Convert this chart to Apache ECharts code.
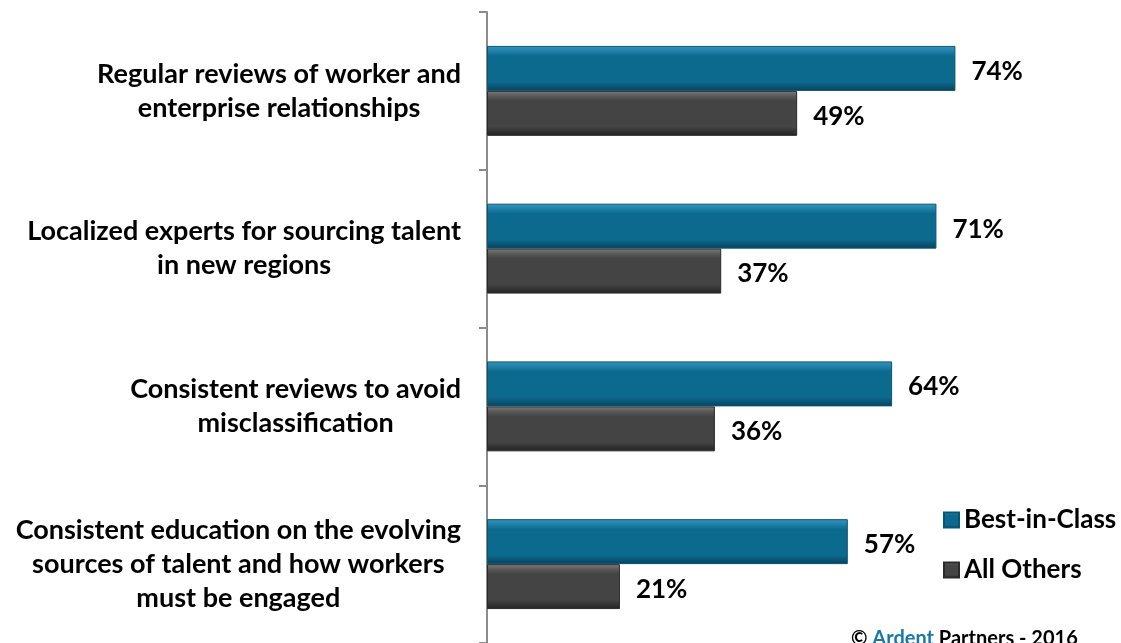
<!DOCTYPE html>
<html><head><meta charset="utf-8">
<script src="https://cdn.jsdelivr.net/npm/echarts@6/dist/echarts.min.js"></script>
<style>html,body{margin:0;padding:0;background:#fff}#c{width:1121px;height:643px}</style>
</head><body><div id="c"></div>
<script>
var categories = [
  'Regular reviews of worker and\nenterprise relationships',
  'Localized experts for sourcing talent\nin new regions',
  'Consistent reviews to avoid\nmisclassification',
  'Consistent education on the evolving\nsources of talent and how workers\nmust be engaged'
];
var seriesNames = ['Best-in-Class', 'All Others'];
var bestInClass = [74, 71, 64, 57];
var allOthers = [49, 37, 36, 21];

var FONT = 'Lato';
function grad(c0, c1, c2, c3) {
  return new echarts.graphic.LinearGradient(0, 0, 0, 1, [
    {offset: 0, color: c0}, {offset: 0.12, color: c1}, {offset: 0.22, color: c2},
    {offset: 0.8, color: c2}, {offset: 1, color: c3}
  ]);
}
var blueFill = grad('#3496bd', '#1f80a8', '#0d6a8f', '#06425b');
var darkFill = grad('#7d7d7d', '#585858', '#444444', '#222222');

var chart = echarts.init(document.getElementById('c'));
var labelStyle = {
  show: true, position: 'right', distance: 16, offset: [0, 3],
  formatter: '{c}%', fontFamily: FONT, fontWeight: 'bold', fontSize: 26, color: '#000'
};
chart.setOption({
  animation: false,
  grid: {left: 487, right: 1, top: 12, height: 632, containLabel: false},
  xAxis: {type: 'value', min: 0, max: 100, show: false},
  yAxis: {
    type: 'category', data: categories, inverse: true,
    axisLine: {show: true, lineStyle: {color: '#8c8c8c', width: 2}},
    axisTick: {show: true, length: 8, lineStyle: {color: '#8c8c8c', width: 2}},
    axisLabel: {
      margin: 26,
      formatter: function (v) {
        return v.split('\n').map(function (l) { return '{c|' + l + '}'; }).join('\n');
      },
      rich: {c: {align: 'center', fontFamily: FONT, fontWeight: 'bold', fontSize: 27, lineHeight: 34, color: '#000'}}
    }
  },
  legend: {
    orient: 'vertical', left: 938, top: 502, itemGap: 24,
    itemWidth: 15, itemHeight: 15, icon: 'rect',
    textStyle: {fontFamily: FONT, fontWeight: 'bold', fontSize: 26, color: '#000'},
    data: seriesNames
  },
  title: {
    left: 846, top: 624,
    text: '{a|© }{b|Ardent}{a| Partners - 2016}',
    textStyle: {rich: {
      a: {fontFamily: FONT, fontWeight: 'bold', fontSize: 20, color: '#000'},
      b: {fontFamily: FONT, fontWeight: 'bold', fontSize: 20, color: '#1a78a8'}
    }}
  },
  series: [
    {name: seriesNames[0], type: 'bar', data: bestInClass, barGap: '0%', barCategoryGap: '43%',
     itemStyle: {color: blueFill, borderColor: '#0a5573', borderWidth: 1}, label: labelStyle},
    {name: seriesNames[1], type: 'bar', data: allOthers, barGap: '0%', barCategoryGap: '43%',
     itemStyle: {color: darkFill, borderColor: '#2a2a2a', borderWidth: 1}, label: labelStyle}
  ]
});
</script></body></html>
